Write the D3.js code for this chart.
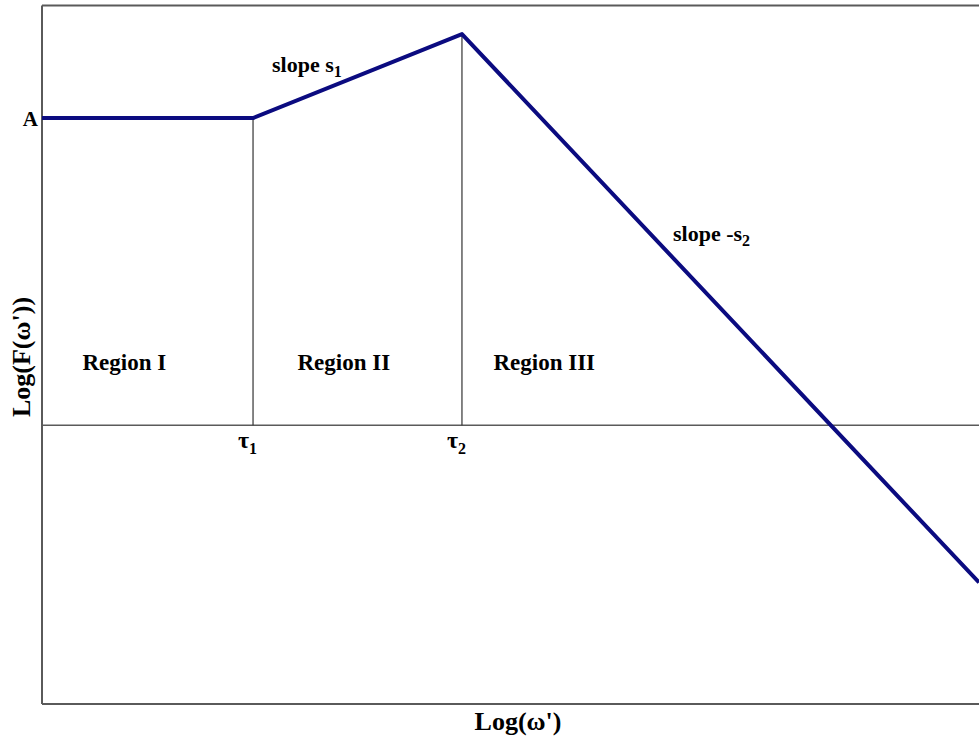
<!DOCTYPE html>
<html>
<head>
<meta charset="utf-8">
<script src="https://cdn.jsdelivr.net/npm/d3@7"></script>
<style>
  html, body { margin: 0; padding: 0; background: #fff; }
  svg text { font-family: "Liberation Serif", "Times New Roman", serif; font-weight: bold; fill: #000; }
</style>
</head>
<body>
<svg id="chart" width="979" height="738"></svg>
<script>
// Piecewise response in log-log units
const breakpoints = ["τ1", "τ2"];
const breakX = [1.0, 1.99];
const curveX = [0, 1.0, 1.99, 4.44];
const curveY = [3.07, 3.07, 3.91, -1.57];
const levelLabel = "A";
const levelValue = 3.07;
const regionNames = ["Region I", "Region II", "Region III"];
const regionX = [0.39, 1.43, 2.38];
const regionY = 0.63;

const svg = d3.select("#chart");
const plotLeft = 42, plotRight = 979, plotTop = 5.5, plotBottom = 704;

const x = d3.scaleLinear().domain([0, 4.44]).range([plotLeft, plotRight]);
const y = d3.scaleLinear().domain([-2.785, 4.195]).range([plotBottom, plotTop]);

const axisColor = "#5a5a5a";

// frame: top edge, left axis, bottom axis
svg.append("line").attr("x1", plotLeft).attr("x2", plotRight).attr("y1", plotTop).attr("y2", plotTop)
  .attr("stroke", axisColor).attr("stroke-width", 2);
svg.append("line").attr("x1", plotLeft).attr("x2", plotLeft).attr("y1", plotTop).attr("y2", plotBottom)
  .attr("stroke", axisColor).attr("stroke-width", 2);
svg.append("line").attr("x1", plotLeft).attr("x2", plotRight).attr("y1", plotBottom).attr("y2", plotBottom)
  .attr("stroke", axisColor).attr("stroke-width", 2);

// zero line
svg.append("line").attr("x1", plotLeft).attr("x2", plotRight).attr("y1", y(0)).attr("y2", y(0))
  .attr("stroke", axisColor).attr("stroke-width", 1.5);

// vertical markers at the break frequencies
const pts = curveX.map((v, i) => [v, curveY[i]]);
breakX.forEach((bx, i) => {
  svg.append("line")
    .attr("x1", x(bx)).attr("x2", x(bx))
    .attr("y1", y(curveY[i + 1])).attr("y2", y(0))
    .attr("stroke", "#333").attr("stroke-width", 1.2);
});

// response curve
svg.append("path")
  .datum(pts)
  .attr("d", d3.line().x(d => x(d[0])).y(d => y(d[1])))
  .attr("fill", "none")
  .attr("stroke", "#0b0b80")
  .attr("stroke-width", 4)
  .attr("stroke-linejoin", "round");

// level label
svg.append("text").attr("x", plotLeft - 4).attr("y", y(levelValue) + 8)
  .attr("text-anchor", "end").attr("font-size", 21).text(levelLabel);

// break labels with subscripts
breakX.forEach((bx, i) => {
  const t = svg.append("text").attr("x", x(bx) - 15).attr("y", y(0) + 23).attr("font-size", 24);
  t.append("tspan").text("τ");
  t.append("tspan").attr("font-size", 16).attr("dy", 6).text(String(i + 1));
});

// region labels
regionNames.forEach((r, i) => {
  svg.append("text").attr("x", x(regionX[i])).attr("y", y(regionY) + 8)
    .attr("text-anchor", "middle").attr("font-size", 23).text(r);
});

// slope annotations
const s1 = svg.append("text").attr("x", 272).attr("y", 72).attr("font-size", 22);
s1.append("tspan").text("slope s");
s1.append("tspan").attr("font-size", 16).attr("dy", 5).text("1");

const s2 = svg.append("text").attr("x", 673).attr("y", 241).attr("font-size", 22);
s2.append("tspan").text("slope -s");
s2.append("tspan").attr("font-size", 16).attr("dy", 5).text("2");

// axis titles
svg.append("text").attr("x", 518).attr("y", 730)
  .attr("text-anchor", "middle").attr("font-size", 26).text("Log(ω')");
svg.append("text")
  .attr("transform", "translate(30, 357) rotate(-90)")
  .attr("text-anchor", "middle").attr("font-size", 26).text("Log(F(ω'))");
</script>
</body>
</html>
